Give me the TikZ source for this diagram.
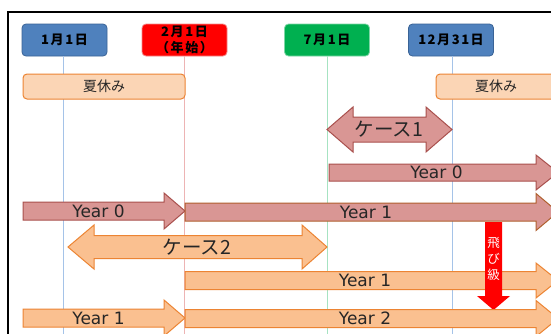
\documentclass[tikz,border=0pt]{standalone}
\usepackage{fontspec}
\newfontfamily\jp{Noto Sans CJK JP}
\newfontfamily\jpsp[LetterSpace=12]{Noto Sans CJK JP}
\newfontfamily\lat{DejaVu Sans}

\definecolor{blueF}{HTML}{4F81BD}
\definecolor{blueD}{HTML}{3A6396}
\definecolor{redF}{HTML}{FF0000}
\definecolor{redD}{HTML}{F28A8A}
\definecolor{greenF}{HTML}{00B050}
\definecolor{greenD}{HTML}{7ED6A6}
\definecolor{peachF}{HTML}{FBD5B5}
\definecolor{orangeD}{HTML}{EC8433}
\definecolor{pinkF}{HTML}{D99694}
\definecolor{pinkD}{HTML}{A9504D}
\definecolor{brownD}{HTML}{B0602E}
\definecolor{orangeF}{HTML}{FAC090}
\definecolor{lineBlue}{HTML}{A5C3E8}
\definecolor{linePink}{HTML}{EDB4B4}
\definecolor{lineGreen}{HTML}{A6E3C2}
\definecolor{txt}{HTML}{262626}

% right-pointing block arrow: style, start x, head base x, tip x, centre y, shaft half, head half
\newcommand\rblockarrow[7]{%
  \path[#1] ({#2},{#5-#6}) -- ({#3},{#5-#6}) -- ({#3},{#5-#7}) -- ({#4},{#5})
    -- ({#3},{#5+#7}) -- ({#3},{#5+#6}) -- ({#2},{#5+#6}) -- cycle;}
% double block arrow: style, left tip, left base, right base, right tip, centre y, shaft half, head half
\newcommand\dblockarrow[8]{%
  \path[#1] ({#2},{#6}) -- ({#3},{#6-#8}) -- ({#3},{#6-#7}) -- ({#4},{#6-#7})
    -- ({#4},{#6-#8}) -- ({#5},{#6}) -- ({#4},{#6+#8}) -- ({#4},{#6+#7})
    -- ({#3},{#6+#7}) -- ({#3},{#6+#8}) -- cycle;}

\tikzset{
  datebox/.style={rounded corners=4pt, line width=0.8pt, minimum width=85pt,
    minimum height=32pt, inner sep=0pt, align=center, text=black,
    font=\jpsp\bfseries\fontsize{13}{15.5}\selectfont},
  holiday/.style={draw=orangeD, fill=peachF, rounded corners=4pt, line width=1pt},
  holtext/.style={text=txt, font=\jp\fontsize{14}{16}\selectfont},
  vline/.style={line width=0.8pt},
  pinkarrow/.style={fill=pinkF, draw=pinkD, line width=1pt},
  pinkbrown/.style={fill=pinkF, draw=brownD, line width=1pt},
  orangearrow/.style={fill=orangeF, draw=orangeD, line width=1pt},
  yeartext/.style={text=txt, font=\lat\fontsize{17}{19}\selectfont, inner sep=0pt},
  casetext/.style={text=txt, font=\jp\fontsize{19.5}{22}\selectfont, inner sep=0pt},
}

\begin{document}
\begin{tikzpicture}[x=1pt, y=-1pt]
\useasboundingbox (0,0) rectangle (551,333);
\clip (0,0) rectangle (551,333);
\fill[white] (0,0) rectangle (551,333);

% outer frame (only its left and top edges fall inside the page)
\draw[line width=1.2pt] (8,12) rectangle (700,500);
\coordinate (bot) at (0,334);

% date headers
\node[datebox, fill=blueF, draw=blueD] (d1) at (64.5,40) {1月1日};
\node[datebox, fill=redF, draw=redD] (d2) at (184.5,40) {2月1日\\（年始）};
\node[datebox, fill=greenF, draw=greenD] (d3) at (327,40) {7月1日};
\node[datebox, fill=blueF, draw=blueD] (d4) at (451,40) {12月31日};

% guide lines below the headers
\draw[vline, lineBlue] (d1.south) ++(-1.5,0) coordinate (l1) -- (l1 |- bot);
\draw[vline, linePink] (d2.south) -- (d2.south |- bot);
\draw[vline, lineGreen] (d3.south) -- (d3.south |- bot);
\draw[vline, lineBlue] (d4.south) ++(1.5,0) coordinate (l4) -- (l4 |- bot);

% summer holidays
\draw[holiday] (23,74) rectangle (185,99);
\node[holtext] (h1) at (104,86.5) {夏休み};
\draw[holiday] (436,74) rectangle (570,99);
\node[holtext] (h2) at (496,86.5) {夏休み};

% case 1
\dblockarrow{pinkarrow}{327}{353}{426}{452}{129.5}{12.5}{22.5}
\node[casetext] (c1) at (389,129) {ケース1};
\rblockarrow{pinkarrow}{329}{536}{558}{172.5}{8.5}{17.5}
\node[yeartext] (y0a) at (436.5,172.5) {Year 0};

% fiscal years
\rblockarrow{pinkarrow}{23}{164}{185}{211}{9}{18}
\node[yeartext] (y0b) at (98.5,211.5) {Year 0};
\rblockarrow{pinkbrown}{185}{536}{558}{212}{9}{18.5}
\node[yeartext] (y1a) at (366,212) {Year 1};

% case 2
\dblockarrow{orangearrow}{68}{94}{302}{327}{247}{11.5}{22}
\node[casetext] (c2) at (197,247) {ケース2};
\rblockarrow{orangearrow}{185}{536}{558}{280.5}{9}{17.5}
\node[yeartext] (y1b) at (365,280.5) {Year 1};

% skipped grade
\path[fill=redF] (485,222) -- (502,222) -- (502,296) -- (510,296) -- (493.5,310)
  -- (477,296) -- (485,296) -- cycle;
\node[text=white, align=center, inner sep=0pt,
  font=\jp\fontsize{12.5}{16}\selectfont] (skip) at (493.5,259) {飛\\び\\級};

\rblockarrow{orangearrow}{23}{164}{185}{318}{9}{18}
\node[yeartext] (y1c) at (98.5,318) {Year 1};
\rblockarrow{orangearrow}{185}{536}{558}{318.5}{9}{18}
\node[yeartext] (y2) at (365,318.5) {Year 2};
\end{tikzpicture}
\end{document}
